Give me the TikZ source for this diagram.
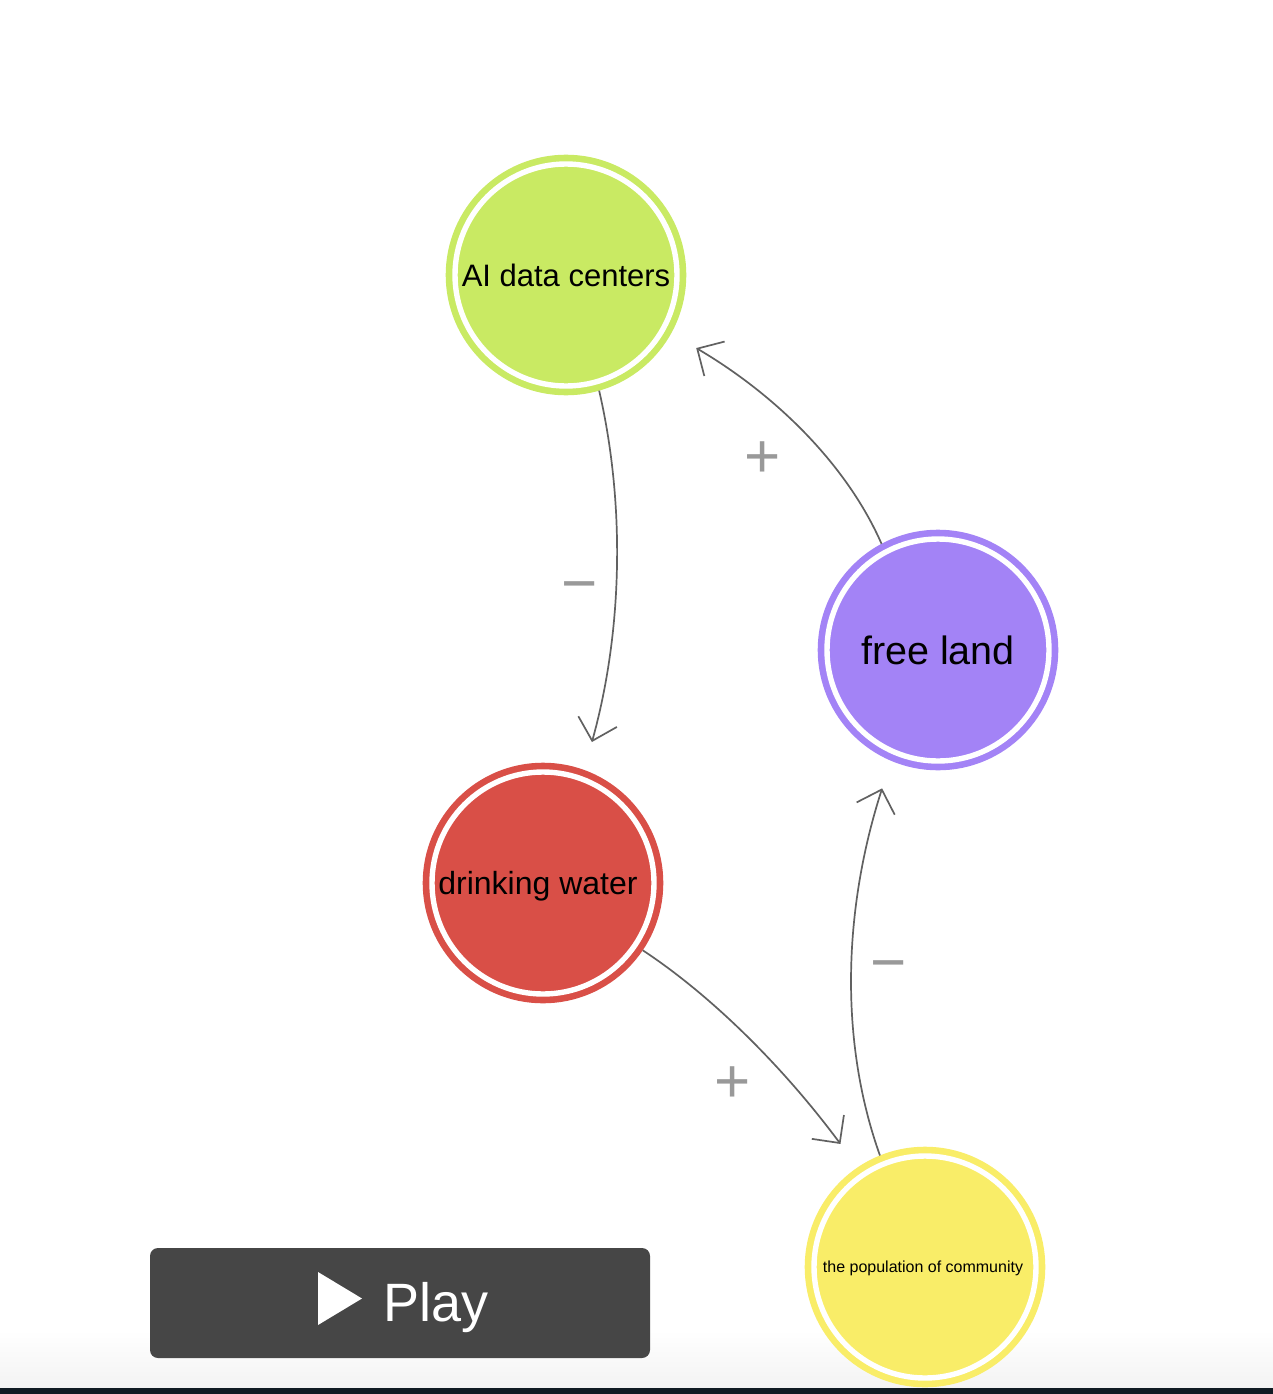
\documentclass[tikz,border=0pt]{standalone}
\usepackage{fontspec}
\setmainfont{Liberation Sans}
\usetikzlibrary{arrows.meta}
\definecolor{cGreen}{HTML}{C9EA63}
\definecolor{cPurple}{HTML}{A383F6}
\definecolor{cRed}{HTML}{D94F47}
\definecolor{cYellow}{HTML}{F9ED68}
\definecolor{cArrow}{HTML}{616161}
\definecolor{cSign}{HTML}{999999}
\definecolor{cBtn}{HTML}{464646}
\definecolor{cBar}{HTML}{101B23}
\definecolor{cFade}{HTML}{F3F3F3}
\begin{document}
\begin{tikzpicture}[x=1pt,y=-1pt,
  cnode/.style={circle, inner sep=0pt, minimum size=222pt, outer sep=9.3pt,
    draw=#1, fill=#1, line width=6.6pt, double=white, double distance=5.4pt,
    text=black, text depth=0pt},
  conn/.style={draw=cArrow, line width=1.7pt,
    -{Straight Barb[length=20pt,width=40pt]}, shorten >=29pt},
  sign/.style={text=cSign, font=\fontsize{62}{62}\selectfont, inner sep=0pt, anchor=base}]
\useasboundingbox (0,0) rectangle (1272,1394);
\fill[white] (0,0) rectangle (1272,1394);
% bottom fade
\shade[top color=white, bottom color=cFade] (-20,1330) rectangle (1292,1388);

% nodes
\node[cnode=cGreen, font=\fontsize{31}{37}\selectfont] (ai) at (566,275) {AI data centers};
\node[cnode=cPurple, font=\fontsize{39.5}{46}\selectfont] (fl) at (938,650) {free land};
\node[cnode=cRed, font=\fontsize{32}{38}\selectfont] (dw) at (543,883) {drinking water\kern10pt};
\node[cnode=cYellow, font=\fontsize{16}{19}\selectfont] (pop) at (925,1267) {the population of community\kern4pt};

% connectors
\draw[conn] (ai.-74) .. controls (626.4,509.5) and (621.4,636) .. (dw.70);
\draw[conn] (fl.118) .. controls (847.4,465.9) and (777.3,395.8) .. (ai.-29);
\draw[conn] (dw.-34) .. controls (713.3,996.8) and (785,1069.1) .. (pop.124);
\draw[conn] (pop.112) .. controls (839.3,1041.8) and (843,910.2) .. (fl.-113);

% polarity signs
\node[sign] (s1) at (580,604.7) {−};
\node[sign] (s2) at (763,477.7) {+};
\node[sign] (s3) at (733,1102.7) {+};
\node[sign] (s4) at (889,983.7) {−};

% play button
\node[fill=cBtn, rounded corners=8pt, minimum width=500pt, minimum height=110pt, inner sep=0pt] (play) at (400,1303) {};
\fill[white] (318,1272) -- (362,1298.5) -- (318,1325) -- cycle;
\node[text=white, font=\fontsize{54}{54}\selectfont, anchor=base west, inner sep=0pt] (playtxt) at (383.5,1321.7) {Play};

% bottom bar
\fill[cBar] (-20,1388) rectangle (1292,1400);
\end{tikzpicture}
\end{document}
